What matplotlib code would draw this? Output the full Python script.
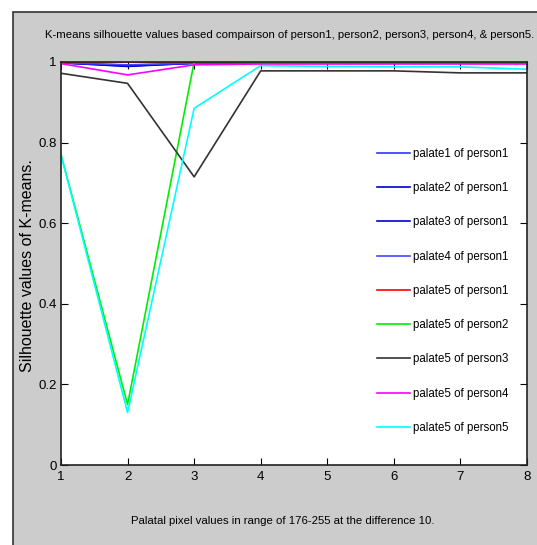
import matplotlib
matplotlib.use("Agg")
import matplotlib.pyplot as plt
from matplotlib.patches import Rectangle

x = [1, 2, 3, 4, 5, 6, 7, 8]
p1_palate1 = [0.998, 0.992, 0.997, 0.998, 0.998, 0.998, 0.998, 0.998]
p1_palate2 = [0.998, 0.990, 0.997, 0.998, 0.998, 0.998, 0.998, 0.998]
p1_palate3 = [0.998, 0.989, 0.997, 0.998, 0.998, 0.998, 0.998, 0.998]
p1_palate4 = [0.998, 0.993, 0.997, 0.998, 0.998, 0.998, 0.998, 0.998]
p1_palate5 = [1.0, 1.0, 1.0, 0.999, 0.999, 0.999, 0.999, 0.999]
p2_palate5 = [0.77, 0.15, 1.0, 1.0, 1.0, 1.0, 1.0, 1.0]
p3_palate5 = [0.972, 0.947, 0.715, 0.978, 0.978, 0.978, 0.973, 0.973]
p4_palate5 = [0.996, 0.968, 0.993, 0.995, 0.995, 0.995, 0.995, 0.995]
p5_palate5 = [0.77, 0.13, 0.885, 0.991, 0.989, 0.988, 0.988, 0.982]

series = [
    ("palate1 of person1", p1_palate1, "#3333ff"),
    ("palate2 of person1", p1_palate2, "#0000cc"),
    ("palate3 of person1", p1_palate3, "#0000dd"),
    ("palate4 of person1", p1_palate4, "#4444ff"),
    ("palate5 of person1", p1_palate5, "#ff0000"),
    ("palate5 of person2", p2_palate5, "#00ee00"),
    ("palate5 of person3", p3_palate5, "#333333"),
    ("palate5 of person4", p4_palate5, "#ff00ff"),
    ("palate5 of person5", p5_palate5, "#00ffff"),
]

W, H = 537, 545
fig = plt.figure(figsize=(W / 100, H / 100), dpi=100, facecolor="white")
fig.patches.append(Rectangle((13 / W, -0.05), 1.1, 1 - 12 / H + 0.05,
                             transform=fig.transFigure, facecolor="#cccccc",
                             edgecolor="#333333", linewidth=1.2, zorder=-10))

fam = ["Liberation Sans", "DejaVu Sans"]

ax = fig.add_axes([61 / W, 1 - 465 / H, (527 - 61) / W, (465 - 62) / H])
ax.set_facecolor("white")
for label, vals, col in series:
    ax.plot(x, vals, color=col, lw=1.2, label=label)

ax.set_xlim(1, 8)
ax.set_ylim(0, 1)
ax.set_xticks(x)
ax.set_yticks([0, 0.2, 0.4, 0.6, 0.8, 1])
ax.set_yticklabels(["0", "0.2", "0.4", "0.6", "0.8", "1"])
ax.tick_params(direction="in", length=5, top=True, right=True, width=0.8,
               labelsize=9.5, pad=4)
ax.tick_params(axis="y", pad=3)
for lab in ax.get_xticklabels() + ax.get_yticklabels():
    lab.set_family(fam)
for s in ax.spines.values():
    s.set_color("#222222")
    s.set_linewidth(1.2)

fig.text(290 / W, 1 - 35 / H,
         "K-means silhouette values based compairson of person1, person2, person3, person4, & person5.",
         ha="center", va="center", fontsize=8.2, family=fam)
fig.text(283 / W, 1 - 521 / H,
         "Palatal pixel values in range of 176-255 at the difference 10.",
         ha="center", va="center", fontsize=8.2, family=fam)
fig.text(28 / W, 1 - 266 / H, "Silhouette values of K-means.",
         rotation=90, ha="center", va="center", fontsize=11.5,
         family=fam)

leg = ax.legend(loc="upper left",
                bbox_to_anchor=((377 - 61) / (527 - 61), (465 - 148) / (465 - 62)),
                frameon=False, prop={"family": fam, "size": 8.3},
                borderpad=0, borderaxespad=0,
                labelspacing=1.93, handlelength=2.9, handletextpad=0.25)

fig.savefig("out.png", dpi=100, facecolor=fig.get_facecolor())
